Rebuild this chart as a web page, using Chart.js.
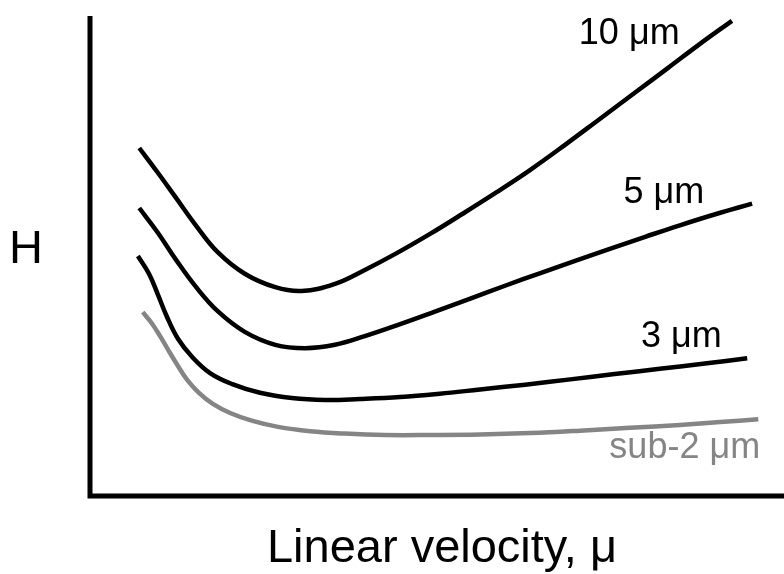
<!DOCTYPE html>
<html>
<head>
<meta charset="utf-8">
<title>van Deemter curves</title>
<script src="https://cdn.jsdelivr.net/npm/chart.js@4.4.1/dist/chart.umd.min.js"></script>
<style>
    html, body { margin: 0; padding: 0; background: #fff; }
    .chart-box { width: 784px; height: 574px; position: relative; }
</style>
</head>
<body>
<div class="chart-box"><canvas id="vdChart"></canvas></div>
<script>
// Curve data (arbitrary units)
const u10 = [0.71, 0.97, 1.24, 1.53, 1.84, 2.23, 2.67, 3.05, 3.53, 3.96, 4.42, 4.90, 5.37, 5.86, 6.34, 6.84, 7.35, 7.85, 8.33, 8.78, 9.25];
const h10 = [7.25, 6.75, 6.21, 5.63, 5.08, 4.63, 4.35, 4.27, 4.42, 4.71, 5.06, 5.46, 5.88, 6.33, 6.79, 7.31, 7.86, 8.40, 8.92, 9.41, 9.90];

const u5 = [0.71, 0.97, 1.24, 1.53, 1.84, 2.23, 2.67, 3.10, 3.53, 3.96, 4.47, 4.97, 5.48, 5.98, 6.48, 6.99, 7.49, 8.00, 8.50, 9.01, 9.54];
const h5 = [6.00, 5.50, 4.92, 4.35, 3.85, 3.42, 3.15, 3.08, 3.15, 3.33, 3.58, 3.84, 4.11, 4.38, 4.64, 4.90, 5.15, 5.40, 5.64, 5.87, 6.09];

const u3 = [0.69, 0.85, 0.98, 1.11, 1.27, 1.47, 1.73, 2.05, 2.45, 2.91, 3.39, 3.89, 4.47, 5.04, 5.62, 6.27, 6.92, 7.56, 8.21, 8.86, 9.47];
const h3 = [5.00, 4.63, 4.19, 3.73, 3.27, 2.90, 2.56, 2.33, 2.15, 2.04, 2.00, 2.02, 2.06, 2.13, 2.22, 2.32, 2.43, 2.54, 2.65, 2.76, 2.87];

const uSub2 = [0.76, 0.89, 1.01, 1.12, 1.25, 1.40, 1.57, 1.77, 2.02, 2.33, 2.71, 3.17, 3.67, 4.25, 4.90, 5.62, 6.34, 7.06, 7.78, 8.50, 9.08, 9.63];
const hSub2 = [3.83, 3.60, 3.33, 3.06, 2.75, 2.42, 2.15, 1.92, 1.73, 1.57, 1.44, 1.35, 1.30, 1.27, 1.27, 1.28, 1.31, 1.36, 1.42, 1.48, 1.54, 1.60];

const seriesNames = ['10 μm', '5 μm', '3 μm', 'sub-2 μm'];
const xTitle = 'Linear velocity, μ';
const yTitle = 'H';

const FONT = '"Liberation Sans", Arial, Helvetica, sans-serif';
const BLACK = '#000';
const GREY = '#858585';

function toPoints(xs, ys) {
    return xs.map((x, i) => ({ x: x, y: ys[i] }));
}

function curve(label, xs, ys, color) {
    return {
        label: label,
        data: toPoints(xs, ys),
        borderColor: color,
        borderWidth: 4.5,
        borderCapStyle: 'butt',
        pointRadius: 0,
        fill: false,
        tension: 0.4,
        clip: false
    };
}

// Axes, axis titles and curve labels
const decorations = {
    id: 'decorations',
    afterDraw(chart) {
        const ctx = chart.ctx;
        const area = chart.chartArea;
        const xs = chart.scales.x;
        const ys = chart.scales.y;

        ctx.save();
        ctx.strokeStyle = BLACK;
        ctx.lineWidth = 5;
        ctx.lineCap = 'butt';
        ctx.beginPath();
        ctx.moveTo(area.left, area.top);
        ctx.lineTo(area.left, area.bottom + 2.5);
        ctx.moveTo(area.left - 2.5, area.bottom);
        ctx.lineTo(area.right, area.bottom);
        ctx.stroke();

        ctx.fillStyle = BLACK;
        ctx.font = '47px ' + FONT;
        ctx.textAlign = 'center';
        ctx.textBaseline = 'alphabetic';
        ctx.fillText(xTitle, (area.left + area.right) / 2 + 5, area.bottom + 66);
        ctx.fillText(yTitle, area.left - 64, ys.getPixelForValue(5.2) + 17);

        // curve labels: [text, x, y (data units), colour]
        const labels = [
            [seriesNames[0], 7.77, 9.42, BLACK],
            [seriesNames[1], 8.27, 6.10, BLACK],
            [seriesNames[2], 8.52, 3.10, BLACK],
            [seriesNames[3], 8.57, 0.79, GREY]
        ];
        ctx.font = '36px ' + FONT;
        labels.forEach(l => {
            ctx.fillStyle = l[3];
            ctx.fillText(l[0], xs.getPixelForValue(l[1]), ys.getPixelForValue(l[2]));
        });
        ctx.restore();
    }
};

const ctx = document.getElementById('vdChart').getContext('2d');
new Chart(ctx, {
    type: 'line',
    data: {
        datasets: [
            curve(seriesNames[0], u10, h10, BLACK),
            curve(seriesNames[1], u5, h5, BLACK),
            curve(seriesNames[2], u3, h3, BLACK),
            curve(seriesNames[3], uSub2, hSub2, GREY)
        ]
    },
    options: {
        responsive: true,
        maintainAspectRatio: false,
        animation: false,
        layout: { padding: { left: 90, right: 0, top: 16, bottom: 78 } },
        plugins: {
            legend: { display: false },
            tooltip: { enabled: false }
        },
        scales: {
            x: { type: 'linear', min: 0, max: 10, display: false },
            y: { type: 'linear', min: 0, max: 10, display: false }
        }
    },
    plugins: [decorations]
});
</script>
</body>
</html>
